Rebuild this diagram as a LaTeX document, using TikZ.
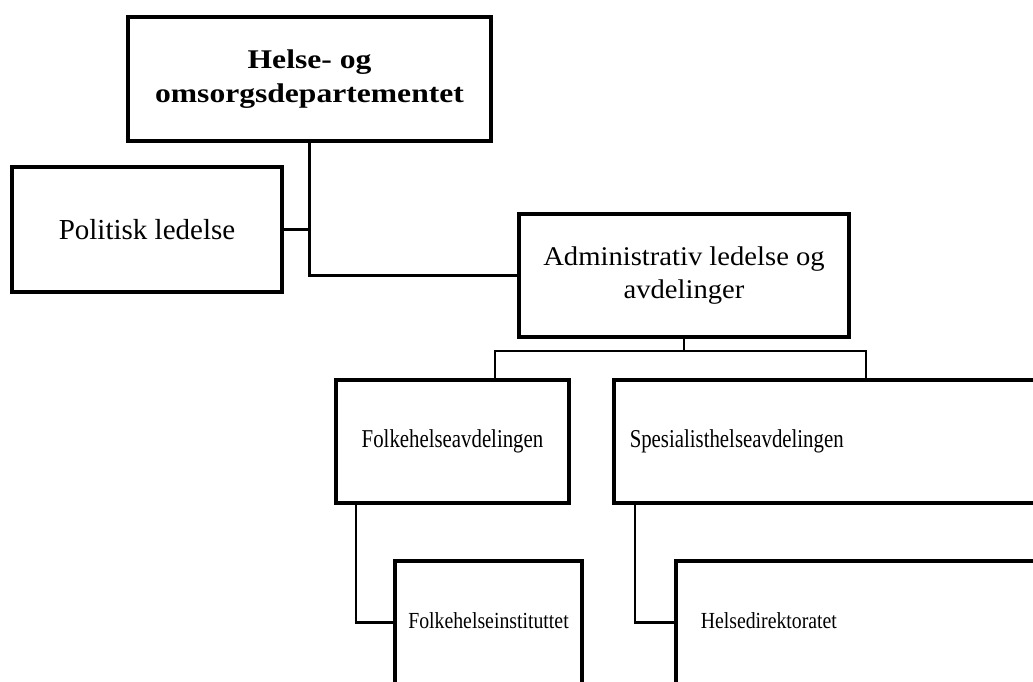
\documentclass[tikz,border=0pt]{standalone}
\usepackage{fontspec}
\setmainfont{Liberation Serif}
\newfontfamily\hodfont{Liberation Serif}[FakeStretch=1.17]
\newfontfamily\admfont{Liberation Serif}[FakeStretch=1.06]
\newfontfamily\avdfont{Liberation Serif}[FakeStretch=0.81]
\newfontfamily\etatfont{Liberation Serif}[FakeStretch=0.86]

\tikzset{
  dept/.style = {draw, rectangle, line width=3.5pt, align=center, inner sep=0pt, minimum height=123pt},
  link/.style = {draw, line width=2.2pt},
}

\begin{document}
\begin{tikzpicture}[x=1pt, y=-1pt]
\useasboundingbox (0,0) rectangle (1033,682);
\clip (0,0) rectangle (1033,682);

% boxes
\node[dept, minimum width=363pt, minimum height=124pt, font=\fontsize{27}{33.3}\selectfont\hodfont\bfseries] (hod) at (309.5,79) {Helse- og\\omsorgsdepartementet};
\node[dept, minimum width=270pt, minimum height=125pt, font=\fontsize{29}{31}\selectfont] (pol) at (147,229.5) {Politisk ledelse};
\node[dept, minimum width=330pt, font=\fontsize{27}{32.3}\selectfont\admfont] (adm) at (684,275.5) {Administrativ ledelse og\\avdelinger};

\node[dept, minimum width=233pt, font=\fontsize{25.7}{30}\selectfont\avdfont] (folk) at (452.5,441.5) {Folkehelseavdelingen};
\node[dept, anchor=west, text width=440pt, inner xsep=16pt, align=left, font=\fontsize{25.7}{30}\selectfont\avdfont] (spes) at (612,441.5) {Spesialisthelseavdelingen};

\node[dept, minimum width=187pt, text height=15.7pt, text depth=4pt, font=\fontsize{23}{28}\selectfont\etatfont] (fhi) at (488.5,622.5) {Folkehelseinstituttet};
\node[dept, anchor=west, text width=400pt, inner xsep=25pt, align=left, text height=15.7pt, text depth=4pt, font=\fontsize{23}{28}\selectfont\etatfont] (hdir) at (674,622.5) {Helsedirektoratet};

% connectors
\coordinate (forkL) at (495,351);
\coordinate (forkR) at (866,351);

\draw[link] (hod.south) |- (adm.west);
\draw[link] (pol.east) -- (pol.east -| hod.south);
\draw[link] (adm.south) -- (adm.south |- forkL);
\draw[link] (folk.north -| forkL) |- (forkR) -- (forkR |- spes.north);
\draw[link] ([xshift=22pt]folk.south west) |- (fhi.west);
\draw[link] ([xshift=23pt]spes.south west) |- (hdir.west);
\end{tikzpicture}
\end{document}
